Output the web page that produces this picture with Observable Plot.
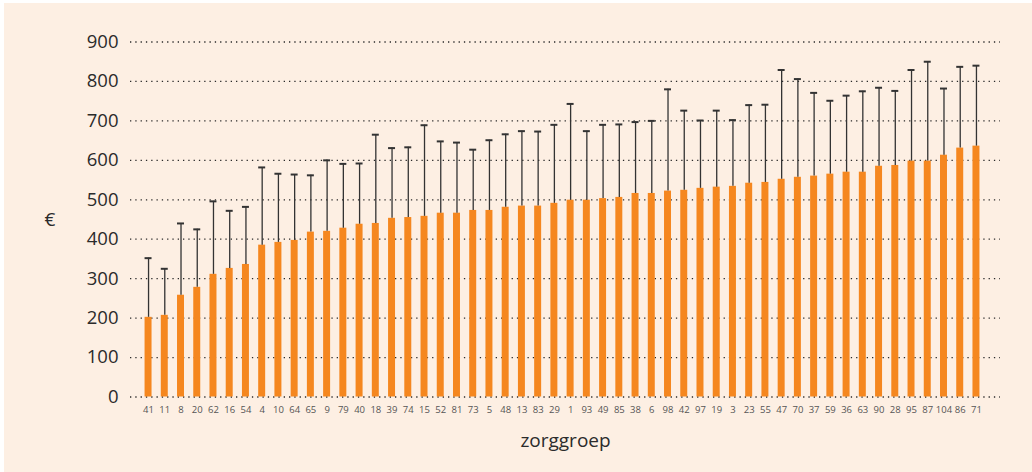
<!DOCTYPE html>
<html>
<head>
<meta charset="utf-8">
<script src="https://cdn.jsdelivr.net/npm/d3@7"></script>
<script src="https://cdn.jsdelivr.net/npm/@observablehq/plot@0.6"></script>
<style>
  html, body { margin: 0; padding: 0; background: #ffffff; }
  #chart { position: absolute; left: 4px; top: 3px; width: 1028px; height: 469px; background: #fdefe3; }
  #chart svg { display: block; }
</style>
</head>
<body>
<div id="chart"></div>
<script>
const groups = ["41","11","8","20","62","16","54","4","10","64","65","9","79","40","18","39","74","15","52","81","73","5","48","13","83","29","1","93","49","85","38","6","98","42","97","19","3","23","55","47","70","37","59","36","63","90","28","95","87","104","86","71"];
const costs = [202,207,258,278,311,326,336,385,392,397,418,420,428,438,440,453,455,458,466,466,473,473,481,484,484,491,499,499,503,506,516,516,522,524,529,532,534,542,544,552,557,560,565,570,570,585,587,598,598,613,631,636];
const upper = [352,325,440,425,496,472,482,582,566,564,562,600,591,592,665,631,633,689,648,645,627,651,666,674,673,690,743,674,690,691,697,700,780,726,701,726,702,740,741,829,806,771,751,764,775,784,776,829,850,782,837,840];
const yTicks = [0,100,200,300,400,500,600,700,800,900];

const data = groups.map((g, i) => ({g, v: costs[i], hi: upper[i]}));

const chart = Plot.plot({
  width: 1028,
  height: 469,
  marginLeft: 126,
  marginRight: 32,
  marginTop: 38.5,
  marginBottom: 75.5,
  style: {background: "transparent", fontFamily: "'Open Sans', 'Noto Sans', sans-serif"},
  x: {domain: groups, padding: 0.57, round: false, insetLeft: 5.3, insetRight: 11.3, label: null},
  y: {domain: [0, 900], label: null},
  marks: [
    Plot.ruleY(yTicks, {stroke: "#2a2a2a", strokeWidth: 1.3, strokeDasharray: "1.3,4"}),
    Plot.barY(data, {x: "g", y: "v", fill: "#f5871f"}),
    Plot.ruleX(data, {x: "g", y1: "v", y2: "hi", stroke: "#333", strokeWidth: 1.3}),
    Plot.tickY(data, {x: "g", y: "hi", stroke: "#333", strokeWidth: 2}),
    Plot.axisY({ticks: yTicks, tickSize: 0, tickPadding: 12, fontSize: 18.5, color: "#2b2b2b", label: null}),
    Plot.axisX({tickSize: 0, tickPadding: 9, fontSize: 9.5, color: "#555", label: null}),
    Plot.text(["€"], {frameAnchor: "left", dx: -86, fontSize: 19, fill: "#2b2b2b"}),
    Plot.text(["zorggroep"], {frameAnchor: "bottom", dy: 50, fontSize: 19, fill: "#2b2b2b"})
  ]
});
document.getElementById("chart").appendChild(chart);
</script>
</body>
</html>
